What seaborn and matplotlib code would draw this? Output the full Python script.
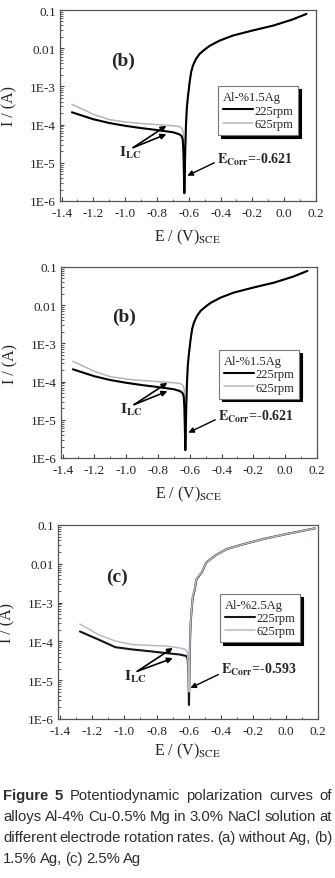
import numpy as np
import pandas as pd
import seaborn as sns
import matplotlib
matplotlib.use('Agg')
import matplotlib.pyplot as plt

# ---- data ----
# panel (b): Al-%1.5Ag  (shown twice)
E_b_225 = [-1.335, -1.2, -1.1, -1.0, -0.9, -0.8, -0.7, -0.66, -0.645, -0.638, -0.634, -0.631,
           -0.628, -0.625, -0.622, -0.618, -0.613, -0.607, -0.595, -0.585, -0.574, -0.555,
           -0.532, -0.5, -0.469, -0.406, -0.323, -0.2, -0.07, 0.05, 0.14]
I_b_225 = [2.1e-4, 1.38e-4, 1.1e-4, 9.3e-5, 8.1e-5, 7.2e-5, 6.3e-5, 5.6e-5, 5.0e-5, 4.0e-5,
           2.0e-5, 6e-6, 1.6e-6, 5e-6, 2.5e-5, 9e-5, 2.5e-4, 4.7e-4, 1.26e-3, 2.4e-3, 3.5e-3,
           5.2e-3, 7.1e-3, 9.2e-3, 1.15e-2, 1.58e-2, 2.14e-2, 2.9e-2, 3.9e-2, 5.6e-2, 7.9e-2]
E_b_625 = [-1.335, -1.2, -1.1, -1.0, -0.9, -0.8, -0.7, -0.66, -0.645, -0.636, -0.631, -0.628,
           -0.626, -0.624, -0.621, -0.617, -0.612, -0.606, -0.595, -0.585, -0.574, -0.555,
           -0.532, -0.5, -0.469, -0.406, -0.323, -0.2, -0.07, 0.05, 0.14]
I_b_625 = [3.4e-4, 1.86e-4, 1.35e-4, 1.17e-4, 1.07e-4, 1.0e-4, 9.3e-5, 8.9e-5, 8.2e-5, 6.8e-5,
           3e-5, 8e-6, 3e-6, 6e-6, 2.7e-5, 9.5e-5, 2.6e-4, 4.9e-4, 1.3e-3, 2.5e-3, 3.6e-3,
           5.3e-3, 7.2e-3, 9.3e-3, 1.16e-2, 1.6e-2, 2.15e-2, 2.9e-2, 3.9e-2, 5.6e-2, 7.9e-2]

# panel (c): Al-%2.5Ag
E_c_225 = [-1.274, -1.16, -1.055, -0.95, -0.846, -0.741, -0.657, -0.615, -0.607, -0.602,
           -0.599, -0.597, -0.595, -0.592, -0.588, -0.584, -0.575, -0.563, -0.553, -0.52,
           -0.49, -0.43, -0.365, -0.25, -0.134, 0.0, 0.18]
I_c_225 = [1.8e-4, 1.12e-4, 7.1e-5, 6.2e-5, 5.6e-5, 5.0e-5, 4.6e-5, 4.2e-5, 3.5e-5, 1.5e-5,
           2.3e-6, 8e-6, 3e-5, 1.2e-4, 3.2e-4, 5.5e-4, 1.4e-3, 2.2e-3, 4.0e-3, 6.0e-3,
           1.1e-2, 1.7e-2, 2.4e-2, 3.3e-2, 4.4e-2, 5.8e-2, 8.2e-2]
E_c_625 = [-1.274, -1.16, -1.055, -0.95, -0.846, -0.741, -0.657, -0.62, -0.607, -0.602,
           -0.599, -0.597, -0.595, -0.592, -0.588, -0.584, -0.575, -0.563, -0.553, -0.52,
           -0.49, -0.43, -0.365, -0.25, -0.134, 0.0, 0.18]
I_c_625 = [2.8e-4, 1.5e-4, 1.02e-4, 8.3e-5, 7.9e-5, 7.6e-5, 6.8e-5, 6.2e-5, 5.0e-5, 1.5e-5,
           5e-6, 1e-5, 3.2e-5, 1.3e-4, 3.4e-4, 5.8e-4, 1.45e-3, 2.3e-3, 4.1e-3, 6.1e-3,
           1.1e-2, 1.7e-2, 2.4e-2, 3.3e-2, 4.4e-2, 5.8e-2, 8.2e-2]

y_ticks = [1e-6, 1e-5, 1e-4, 1e-3, 1e-2, 1e-1]
y_ticklabels = ['1E-6', '1E-5', '1E-4', '1E-3', '0.01', '0.1']
x_ticks = [-1.4, -1.2, -1.0, -0.8, -0.6, -0.4, -0.2, 0.0, 0.2]
x_ticklabels = ['-1.4', '-1.2', '-1.0', '-0.8', '-0.6', '-0.4', '-0.2', '0.0', '0.2']

caption_lines = ["Figure 5 Potentiodynamic polarization curves of",
                 "alloys Al-4% Cu-0.5% Mg in 3.0% NaCl solution at",
                 "different electrode rotation rates. (a) without Ag, (b)",
                 "1.5% Ag, (c) 2.5% Ag"]

sns.set_theme(style='ticks')
plt.rcParams['font.family'] = ['Liberation Serif', 'DejaVu Serif']
plt.rcParams['mathtext.fontset'] = 'stix'

W, H = 335, 879
fig = plt.figure(figsize=(W / 100, H / 100), dpi=100)


def make_ax(left, top, right, bottom):
    return fig.add_axes([left / W, 1 - bottom / H, (right - left) / W, (bottom - top) / H])


panels = [
    dict(box=(60, 11, 316, 202), E1=E_b_225, I1=I_b_225, E2=E_b_625, I2=I_b_625,
         title='Al-%1.5Ag', tag='(b)', tagpos=(-1.013, 4.7e-3), leg=(0.617, 0.60),
         ilc=(-0.95, 2.5e-5), ilc_to=[(-0.741, 9.3e-5), (-0.741, 5.6e-5)], ilc_txt=(-0.965, 1.9e-5),
         ecorr='-0.621', ec_txt=(-0.42, 1.25e-5), ec_from=(-0.44, 1.0e-5), ec_to=(-0.609, 4.6e-6),
         c225='black', c625='#b5b5b5', gray_first=True, xpad=6),
    dict(box=(61, 268, 317, 459), E1=E_b_225, I1=I_b_225, E2=E_b_625, I2=I_b_625,
         title='Al-%1.5Ag', tag='(b)', tagpos=(-1.013, 5.2e-3), leg=(0.617, 0.565),
         ilc=(-0.95, 2.5e-5), ilc_to=[(-0.741, 9.3e-5), (-0.741, 5.6e-5)], ilc_txt=(-0.965, 1.9e-5),
         ecorr='-0.621', ec_txt=(-0.42, 1.25e-5), ec_from=(-0.44, 1.0e-5), ec_to=(-0.609, 4.6e-6),
         c225='black', c625='#b5b5b5', gray_first=True, xpad=6),
    dict(box=(58, 526, 318, 720), E1=E_c_225, I1=I_c_225, E2=E_c_625, I2=I_c_625,
         title='Al-%2.5Ag', tag='(c)', tagpos=(-1.044, 4.8e-3), leg=(0.623, 0.645),
         ilc=(-0.919, 1.7e-5), ilc_to=[(-0.699, 6.8e-5), (-0.699, 3.7e-5)], ilc_txt=(-0.93, 1.3e-5),
         ecorr='-0.593', ec_txt=(-0.40, 1.9e-5), ec_from=(-0.417, 1.4e-5), ec_to=(-0.59, 6.3e-6),
         c225='#1c0f22', c625='#bdb8c4', gray_first=False, xpad=3),
]

for p in panels:
    ax = make_ax(*p['box'])
    df1 = pd.DataFrame({'E': p['E1'], 'I': p['I1']})
    df2 = pd.DataFrame({'E': p['E2'], 'I': p['I2']})
    order = [(df2, p['c625'], '625rpm', 1.1), (df1, p['c225'], '225rpm', 1.5)]
    if not p['gray_first']:
        order = order[::-1]
    for d, c, lab, lw in order:
        sns.lineplot(data=d, x='E', y='I', color=c, lw=lw, sort=False, estimator=None,
                     label=lab, ax=ax)
    ax.set_yscale('log')
    ax.set_xlim(-1.41, 0.2)
    ax.set_ylim(1e-6, 0.1)
    ax.set_yticks(y_ticks)
    ax.set_yticklabels(y_ticklabels)
    ax.set_xticks(x_ticks)
    ax.set_xticklabels(x_ticklabels)
    ax.set_xticks(np.arange(-1.3, 0.2, 0.2), minor=True)
    ax.tick_params(axis='both', which='major', direction='in', length=3, width=0.8,
                   labelsize=9.5, color='#444444')
    ax.tick_params(axis='x', which='major', pad=4)
    ax.tick_params(axis='y', which='major', pad=3)
    ax.tick_params(axis='both', which='minor', direction='in', length=1.8, width=0.6,
                   color='#444444')
    for s in ax.spines.values():
        s.set_color('#555555')
        s.set_linewidth(0.9)
    ax.set_xlabel(r'E / (V)$_{\mathrm{SCE}}$', fontsize=11.5, labelpad=p['xpad'])
    ax.set_ylabel('I / (A)', fontsize=11.5, labelpad=9)

    # legend box with hard shadow
    h, l = ax.get_legend_handles_labels()
    hl = dict(zip(l, h))
    leg = ax.legend([hl['225rpm'], hl['625rpm']], ['225rpm', '625rpm'], title=p['title'],
                    loc='upper left', bbox_to_anchor=p['leg'], fontsize=9, title_fontsize=9,
                    frameon=True, fancybox=False, edgecolor='#777777', framealpha=1,
                    shadow={'color': 'black', 'alpha': 1, 'ox': 2, 'oy': -2},
                    handlelength=2.4, handletextpad=0.1, borderpad=0.4, labelspacing=0.1,
                    alignment='left', borderaxespad=0)
    leg.get_frame().set_linewidth(0.8)

    ax.text(*p['tagpos'], p['tag'], fontsize=14, fontweight='bold', ha='center', va='center')
    for end in p['ilc_to']:
        ax.annotate('', xy=end, xytext=p['ilc'],
                    arrowprops=dict(arrowstyle='-|>', color='black', lw=1.2, mutation_scale=8,
                                    shrinkA=0, shrinkB=0))
    ax.text(*p['ilc_txt'], r'$\mathbf{I_{LC}}$', fontsize=11, ha='center', va='center')
    ax.annotate('', xy=p['ec_to'], xytext=p['ec_from'],
                arrowprops=dict(arrowstyle='-|>', color='black', lw=1.0, mutation_scale=8,
                                shrinkA=0, shrinkB=0))
    ax.text(*p['ec_txt'], r'$\mathbf{E_{Corr}}$=' + p['ecorr'], fontsize=10, fontweight='bold',
            ha='left', va='center')

# ---- justified caption ----
fig.canvas.draw()
r = fig.canvas.get_renderer()
cap_font = ['Liberation Sans Narrow', 'Liberation Sans']
x0, x1 = 3, 332
baselines = [800, 821, 842, 863]


def place_line(line, yb, size, bold_first, justify):
    words = line.split()
    texts = []
    for j, w in enumerate(words):
        bold = bold_first and j < 2
        texts.append(fig.text(0, 1 - yb / H, w, fontsize=size, family=cap_font,
                              fontweight='bold' if bold else 'normal', color='#2e2e2e',
                              ha='left', va='baseline'))
    widths = [t.get_window_extent(r).width for t in texts]
    gap = (x1 - x0 - sum(widths)) / (len(words) - 1) if justify else size * 0.3
    return texts, widths, gap


# pick the largest size at which every justified line still fits
size = 13.5
while True:
    trial = [place_line(l, 0, size, i == 0, True) for i, l in enumerate(caption_lines[:-1])]
    ok = min(g for _, _, g in trial) >= 2.5
    for texts, _, _ in trial:
        for t in texts:
            t.remove()
    if ok or size < 8:
        break
    size -= 0.25

for i, (line, yb) in enumerate(zip(caption_lines, baselines)):
    texts, widths, gap = place_line(line, yb, size, i == 0, i < len(caption_lines) - 1)
    x = x0
    for t, wd in zip(texts, widths):
        t.set_x(x / W)
        x += wd + gap

fig.savefig('out.png', dpi=100)
